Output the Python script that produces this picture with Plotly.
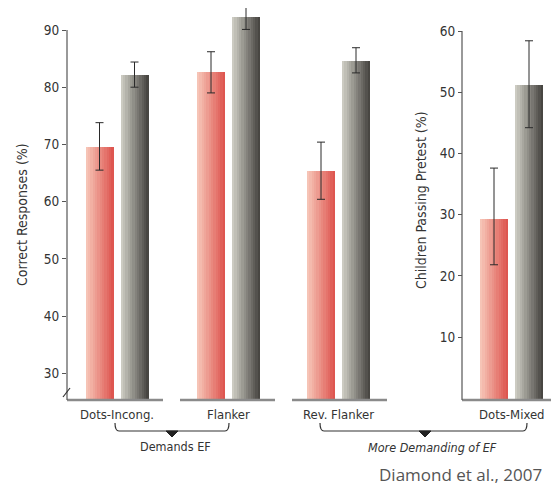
import plotly.graph_objects as go

# ---------------- data ----------------
categories = ["Dots-Incong.", "Flanker", "Rev. Flanker", "Dots-Mixed"]
red_vals = [69.6, 82.6, 65.3, 29.3]
red_hi = [73.8, 86.2, 70.4, 37.6]
red_lo = [65.5, 79.0, 60.4, 21.8]
gray_vals = [82.2, 92.3, 84.6, 51.2]
gray_hi = [84.4, 94.2, 86.9, 58.4]
gray_lo = [80.0, 90.1, 82.5, 44.2]
axis_of = ["y", "y", "y", "y2"]          # Dots-Mixed uses right axis
left_ticks = [30, 40, 50, 60, 70, 80, 90]
right_ticks = [10, 20, 30, 40, 50, 60]
group_labels = ["Demands EF", "More Demanding of EF"]
credit = "Diamond et al., 2007"
left_title = "Correct Responses (%)"
right_title = "Children Passing Pretest (%)"

# ---------------- layout constants ----------------
# page has an 8px body margin, so the figure is 8px smaller and shifted
OFF = 8
W, H = 559 - OFF, 491 - OFF
PLOT_L, PLOT_T, PLOT_B = 67, 8, 400       # plot area in page pixels
L, T, R = PLOT_L - OFF, PLOT_T - OFF, 0
B = H - (PLOT_B - OFF)
PW, PH = W - L - R, PLOT_B - PLOT_T
centers = [50, 161.5, 271.5, 444.5]      # group centres in x units (= page px - 67)
bar_w = 28
half_gap = 17.5
yl_range = [90 - (PLOT_B - 30) / 5.72, 90 + (30 - PLOT_T) / 5.72]
yr_range = [60 - (PLOT_B - 31) / 6.12, 60 + (31 - PLOT_T) / 6.12]
right_axis_x = 462 - PLOT_L

FONT = "DejaVu Sans Condensed, sans-serif"


def px_x(px):
    return (px - PLOT_L) / PW


def py(px):
    return (PLOT_B - px) / PH


def val_y(v, rng):
    return (v - rng[0]) / (rng[1] - rng[0])


def lerp(c1, c2, t):
    return "rgb(%d,%d,%d)" % tuple(int(round(a + (b - a) * t)) for a, b in zip(c1, c2))


red_left, red_right = (246, 196, 182), (222, 86, 80)
gray_left, gray_right = (204, 203, 194), (72, 70, 66)

fig = go.Figure()
N = 12
sw = bar_w / N
for i in range(N):
    t = i / (N - 1)
    for vals, shift, cl, cr in [(red_vals, -half_gap, red_left, red_right),
                                 (gray_vals, half_gap, gray_left, gray_right)]:
        for yax, rng in [("y", yl_range), ("y2", yr_range)]:
            idx = [k for k in range(len(categories)) if axis_of[k] == yax]
            fig.add_trace(go.Bar(
                x=[centers[k] for k in idx],
                y=[vals[k] - rng[0] for k in idx],
                base=rng[0],
                width=sw + 0.35,
                offset=shift - bar_w / 2 + i * sw,
                marker=dict(color=lerp(cl, cr, t), line=dict(width=0)),
                yaxis=yax, showlegend=False, hoverinfo="skip",
            ))

# error bars
for vals, hi, lo, shift in [(red_vals, red_hi, red_lo, -half_gap),
                            (gray_vals, gray_hi, gray_lo, half_gap)]:
    for yax in ["y", "y2"]:
        idx = [k for k in range(len(categories)) if axis_of[k] == yax]
        fig.add_trace(go.Scatter(
            x=[centers[k] + shift for k in idx],
            y=[vals[k] for k in idx],
            mode="markers", marker=dict(size=0.1, color="rgba(0,0,0,0)"),
            error_y=dict(type="data", symmetric=False,
                         array=[hi[k] - vals[k] for k in idx],
                         arrayminus=[vals[k] - lo[k] for k in idx],
                         color="#2a2a2a", thickness=1, width=4),
            yaxis=yax, showlegend=False, hoverinfo="skip", cliponaxis=False,
        ))

shapes = []
axcol = "#555555"
# baseline segments
seg = [(-50, 46), (-48.5, 46.5), (-46.5, 48.5), (-49.5, 47.5)]
for c, (a, b) in zip(centers, seg):
    shapes.append(dict(type="line", xref="paper", yref="paper",
                       x0=(c + a) / PW, x1=(c + b) / PW,
                       y0=0, y1=0, line=dict(color="#8a8a8a", width=2.5)))
# left axis line
shapes.append(dict(type="line", xref="paper", yref="paper", x0=0, x1=0,
                   y0=0, y1=val_y(90, yl_range), line=dict(color=axcol, width=1.2)))
# right axis line
shapes.append(dict(type="line", xref="paper", yref="paper",
                   x0=right_axis_x / PW, x1=right_axis_x / PW,
                   y0=0, y1=val_y(60, yr_range), line=dict(color=axcol, width=1.2)))
# axis break slash
shapes.append(dict(type="line", xref="paper", yref="paper", x0=px_x(63), x1=px_x(70),
                   y0=py(397), y1=py(388), line=dict(color="#333", width=1.2)))


def brace(x0, x1, xc, ytop, yline, ytip):
    r = 4
    X0, X1, XC = px_x(x0), px_x(x1), px_x(xc)
    rr = r / PW
    path = (f"M {X0},{py(ytop)} Q {X0},{py(yline)} {X0 + rr},{py(yline)} "
            f"L {X1 - rr},{py(yline)} Q {X1},{py(yline)} {X1},{py(ytop)}")
    shapes.append(dict(type="path", xref="paper", yref="paper", path=path,
                       line=dict(color="#333", width=1.2)))
    d = 6 / PW
    tri = f"M {XC - d},{py(yline)} L {XC + d},{py(yline)} L {XC},{py(ytip)} Z"
    shapes.append(dict(type="path", xref="paper", yref="paper", path=tri,
                       fillcolor="#222", line=dict(color="#222", width=1)))


brace(115, 229, 172, 423, 431, 437)
brace(320, 527, 425, 423, 431, 437)

txt = dict(family=FONT, size=13, color="#333")
annotations = []
for c, name in zip(centers, categories):
    annotations.append(dict(text=name, x=c / PW, xref="paper", y=py(414), yref="paper",
                            xanchor="center", yanchor="middle", showarrow=False, font=txt))
annotations += [
    dict(text=group_labels[0], x=px_x(175), xref="paper", y=py(446), yref="paper",
         xanchor="center", yanchor="middle",
         showarrow=False, font=dict(family=FONT, size=12.5, color="#333")),
    dict(text="<i>" + group_labels[1] + "</i>", x=px_x(432), xref="paper", y=py(447),
         yref="paper", xanchor="center", yanchor="middle",
         showarrow=False, font=dict(family=FONT, size=12.5, color="#333")),
    dict(text=credit, x=px_x(460), xref="paper", y=py(474), yref="paper",
         xanchor="center", yanchor="middle",
         showarrow=False, font=dict(family="Open Sans, sans-serif", size=17, color="#555")),
    dict(text=left_title, x=px_x(22), xref="paper", y=py(215), yref="paper",
         xanchor="center", yanchor="middle",
         textangle=-90, showarrow=False, font=dict(family=FONT, size=14, color="#333")),
    dict(text=right_title, x=px_x(421), xref="paper", y=py(200), yref="paper",
         xanchor="center", yanchor="middle",
         textangle=-90, showarrow=False, font=dict(family=FONT, size=14, color="#333")),
]

fig.update_layout(
    width=W, height=H,
    margin=dict(l=L, r=R, t=T, b=B, pad=0),
    paper_bgcolor="white", plot_bgcolor="white",
    barmode="overlay", bargap=0,
    showlegend=False,
    xaxis=dict(range=[0, PW], showgrid=False, zeroline=False, showline=False,
               showticklabels=False, ticks=""),
    yaxis=dict(range=yl_range, showgrid=False, zeroline=False, showline=False,
               tickvals=left_ticks, ticks="outside", ticklen=4, tickcolor=axcol,
               tickfont=dict(family=FONT, size=13.5, color="#333")),
    yaxis2=dict(range=yr_range, overlaying="y", anchor="free",
                position=right_axis_x / PW, side="left",
                showgrid=False, zeroline=False, showline=False,
                tickvals=right_ticks, ticks="outside", ticklen=4, tickcolor=axcol,
                tickfont=dict(family=FONT, size=13.5, color="#333")),
    shapes=shapes, annotations=annotations,
)

fig.write_html("out.html")
